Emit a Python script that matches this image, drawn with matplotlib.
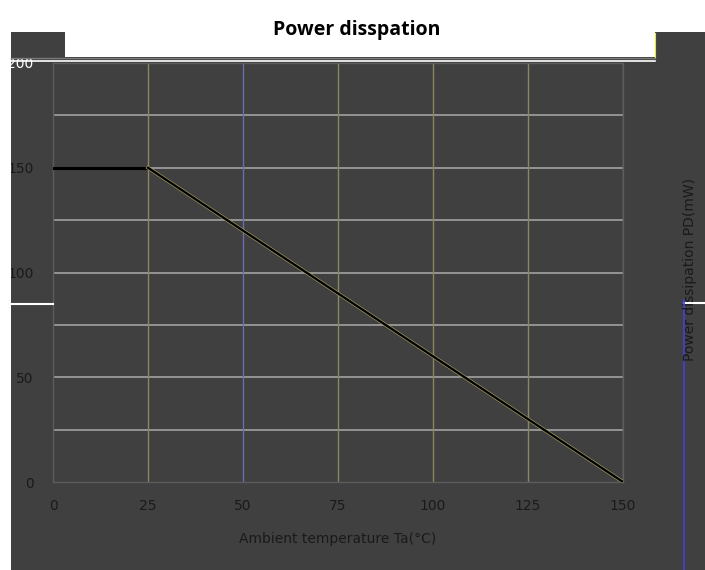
import matplotlib
matplotlib.use('Agg')
import matplotlib.pyplot as plt
import matplotlib.patheffects as pe
from matplotlib.patches import Rectangle
from matplotlib.lines import Line2D

# derating curve
temps = [0, 25, 150]
power = [150, 150, 0]
x_ticks = [0, 25, 50, 75, 100, 125, 150]
y_ticks = [0, 50, 100, 150, 200]
y_grid = [25, 50, 75, 100, 125, 150, 175, 200]

W, H = 705, 570
BG = '#404040'
TXT = '#1a1a1a'

fig = plt.figure(figsize=(W / 100, H / 100), dpi=100)
fig.patch.set_facecolor(BG)

def px_rect(x0, y0, x1, y1, color, z=0):
  # rectangle given in pixel coords (origin top-left)
  fig.patches.append(Rectangle((x0 / W, 1 - y1 / H), (x1 - x0) / W, (y1 - y0) / H,
                               transform=fig.transFigure, facecolor=color,
                               edgecolor='none', zorder=z))

def px_line(x0, y0, x1, y1, color, lw=1.0):
  fig.lines.append(Line2D([x0 / W, x1 / W], [1 - y0 / H, 1 - y1 / H],
                          transform=fig.transFigure, color=color, lw=lw))

# white frame bits around the dark panel
px_rect(0, 0, W, 32, 'white')
px_rect(0, 0, 11, H, 'white')
px_rect(65, 0, 655, 57, 'white')
px_line(11, 58, 655, 58, '#7a7a7a', 1.0)
px_line(11, 61, 655, 61, 'white', 1.2)
px_line(655, 33, 655, 57, '#e8e830', 0.8)
px_line(11, 304, 53, 304, 'white', 1.5)
px_line(684, 303, 705, 303, 'white', 1.5)
px_line(684, 300, 684, H, '#4040e0', 1.2)

fig.text(357 / W, 1 - 30 / H, 'Power disspation', ha='center', va='center',
         fontsize=14, fontweight='bold', color='black', family='Open Sans')

ax = fig.add_axes([53 / W, 1 - 482 / H, (623 - 53) / W, (482 - 63) / H])
ax.set_facecolor(BG)
ax.set_xlim(0, 150)
ax.set_ylim(0, 200)

for v in y_grid:
  ax.axhline(v, color='#9a9a9a', lw=1.3, zorder=1)
for v in x_ticks[1:]:
  ax.axvline(v, color='#6c6cb0' if v == 50 else '#8a8660', lw=1.0, zorder=1)

ax.plot(temps[:2], power[:2], color='black', lw=2.2, zorder=3)
ax.plot(temps[1:], power[1:], color='black', lw=1.7, zorder=3,
        path_effects=[pe.Stroke(linewidth=2.6, foreground='#a8a060'), pe.Normal()])

for s in ax.spines.values():
  s.set_color('#5c5c5c')
  s.set_linewidth(1.0)

ax.set_xticks(x_ticks)
ax.set_yticks(y_ticks)
ax.tick_params(length=0, labelsize=10, labelcolor=TXT)
ax.tick_params(axis='x', pad=12)
ax.tick_params(axis='y', pad=14)
ax.get_yticklabels()[-1].set_color('white')

ax.set_xlabel('Ambient temperature Ta(\u00b0C)', fontsize=10, color=TXT, labelpad=14)
fig.text(690 / W, 1 - 270 / H, 'Power dissipation PD(mW)', rotation=90,
         ha='center', va='center', fontsize=10, color=TXT)

fig.savefig('out.png', dpi=100, facecolor=fig.get_facecolor())
